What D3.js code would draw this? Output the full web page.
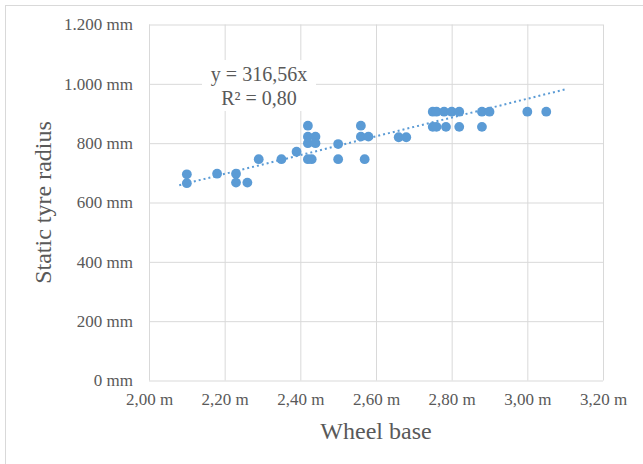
<!DOCTYPE html>
<html>
<head>
<meta charset="utf-8">
<script src="https://cdn.jsdelivr.net/npm/d3@7"></script>
<style>
  body { margin: 0; background: #fff; }
  text { font-family: "Liberation Serif", "Times New Roman", serif; fill: #595959; }
</style>
</head>
<body>
<svg id="chart" width="643" height="464"></svg>
<script>
// wheel base (m) and static tyre radius (mm)
const wheelBase = [
    2.10, 2.10, 2.18, 2.23, 2.23, 2.26, 2.29, 2.35, 2.39,
    2.42, 2.42, 2.44, 2.42, 2.44, 2.42, 2.43, 2.50, 2.50,
    2.56, 2.56, 2.58, 2.57, 2.66, 2.68,
    2.75, 2.76, 2.78, 2.80, 2.82, 2.88, 2.90, 3.00, 3.05,
    2.75, 2.76, 2.785, 2.82, 2.88
];
const tyreRadius = [
    695, 665, 697, 697, 667, 667, 746, 746, 771,
    859, 822, 822, 800, 800, 746, 746, 797, 746,
    859, 822, 822, 746, 820, 820,
    906, 906, 906, 906, 906, 906, 906, 906, 906,
    855, 855, 855, 855, 855
];
const slope = 316.56;          // trendline y = 316,56x
const trendRange = [2.08, 3.10];
const xTicks = [2.0, 2.2, 2.4, 2.6, 2.8, 3.0, 3.2];
const yTicks = [0, 200, 400, 600, 800, 1000, 1200];
const eqLines = ["y = 316,56x", "R² = 0,80"];

const data = wheelBase.map((x, i) => ({ x: x, y: tyreRadius[i] }));

const locale = d3.formatLocale({ decimal: ",", thousands: ".", grouping: [3], currency: ["", ""] });
const fmtX = locale.format(".2f");
const fmtY = locale.format(",");

const svg = d3.select("#chart");
const margin = { top: 24.5, right: 40, bottom: 83.5, left: 149 };
const width = 603 - margin.left;
const height = 380.5 - margin.top;

// outer chart border
svg.append("rect")
    .attr("x", 5.5).attr("y", 5.5)
    .attr("width", 700).attr("height", 500)
    .attr("fill", "#fff")
    .attr("stroke", "#d9d9d9");

const x = d3.scaleLinear().domain([2.0, 3.2]).range([0, width]);
const y = d3.scaleLinear().domain([0, 1200]).range([height, 0]);

const g = svg.append("g").attr("transform", `translate(${margin.left},${margin.top})`);

// gridlines
g.append("g")
    .call(d3.axisLeft(y).tickValues(yTicks).tickSize(-width).tickFormat(""))
    .call(s => s.select(".domain").remove())
    .selectAll("line").attr("stroke", "#d9d9d9");
g.append("g")
    .call(d3.axisTop(x).tickValues(xTicks).tickSize(-height).tickFormat(""))
    .call(s => s.select(".domain").remove())
    .selectAll("line").attr("stroke", "#d9d9d9");

// tick labels
const yAxis = g.append("g")
    .call(d3.axisLeft(y).tickValues(yTicks).tickSize(0).tickPadding(16).tickFormat(d => fmtY(d) + " mm"))
    .attr("font-family", "Liberation Serif")
    .attr("font-size", 17);
yAxis.select(".domain").remove();
yAxis.selectAll("text").attr("fill", "#595959");

const xAxis = g.append("g")
    .attr("transform", `translate(0,${height})`)
    .call(d3.axisBottom(x).tickValues(xTicks).tickSize(0).tickPadding(12).tickFormat(d => fmtX(d) + " m"))
    .attr("font-family", "Liberation Serif")
    .attr("font-size", 17);
xAxis.select(".domain").remove();
xAxis.selectAll("text").attr("fill", "#595959");

// trendline
g.append("line")
    .attr("x1", x(trendRange[0]))
    .attr("y1", y(slope * trendRange[0]))
    .attr("x2", x(trendRange[1]))
    .attr("y2", y(slope * trendRange[1]))
    .attr("stroke", "#5b9bd5")
    .attr("stroke-width", 2)
    .attr("stroke-dasharray", "2,3");

// points
g.selectAll("circle")
    .data(data)
    .enter()
    .append("circle")
    .attr("cx", d => x(d.x))
    .attr("cy", d => y(d.y))
    .attr("r", 4.9)
    .attr("fill", "#5b9bd5");

// equation label
svg.append("rect")
    .attr("x", 202).attr("y", 60)
    .attr("width", 114).attr("height", 51)
    .attr("fill", "#fff");
svg.append("g").selectAll("text")
    .data(eqLines)
    .enter()
    .append("text")
    .attr("x", 259)
    .attr("y", (d, i) => 81 + i * 24)
    .attr("text-anchor", "middle")
    .attr("font-size", "20px")
    .text(d => d);

// axis titles
svg.append("text")
    .attr("x", margin.left + width / 2)
    .attr("y", 439)
    .attr("text-anchor", "middle")
    .attr("font-size", "24px")
    .text("Wheel base");

svg.append("text")
    .attr("transform", `translate(51,${margin.top + height / 2}) rotate(-90)`)
    .attr("text-anchor", "middle")
    .attr("font-size", "24px")
    .text("Static tyre radius");
</script>
</body>
</html>
